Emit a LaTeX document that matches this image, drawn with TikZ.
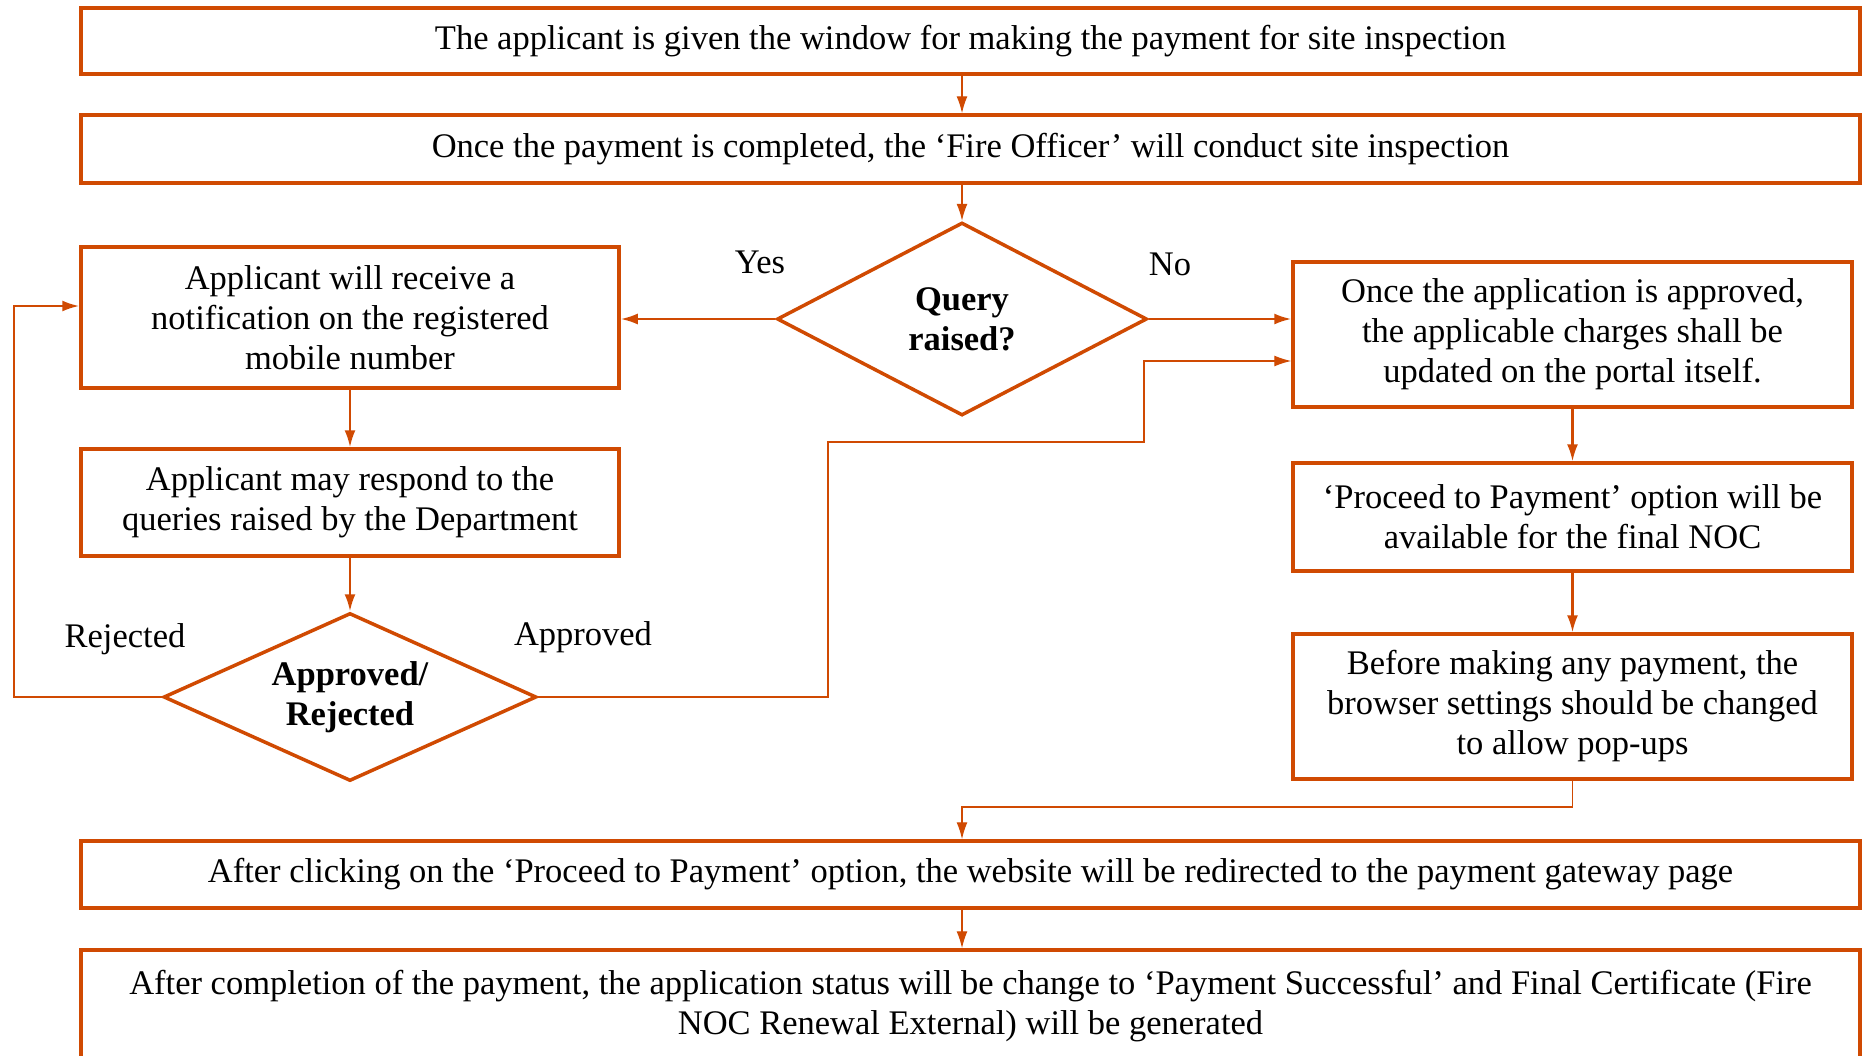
\documentclass[tikz,border=0pt]{standalone}
\usepackage{fontspec}
\setmainfont{Liberation Serif}
\usetikzlibrary{shapes.geometric,arrows.meta}
\definecolor{pwcorange}{RGB}{208,74,2}
\begin{document}
\begin{tikzpicture}[x=1pt,y=-1pt,
    every node/.style={font=\fontsize{34.5}{40}\selectfont},
    stepbox/.style={rectangle,draw=pwcorange,line width=3.5pt,align=center,inner sep=0pt},
    widebox/.style={stepbox,minimum width=1779pt},
    sidebox/.style={stepbox,minimum width=545pt},
    decision/.style={diamond,draw=pwcorange,line width=3.5pt,align=center,inner sep=0pt,aspect=2,font=\fontsize{34.5}{40}\selectfont\bfseries},
    link/.style={draw=pwcorange,line width=2.2pt,-{Latex[length=17pt,width=11pt]}},
    thinlink/.style={draw=pwcorange,line width=1.4pt,-{Latex[length=17pt,width=11pt]}}]
    \useasboundingbox (0,0) rectangle (1862,1055);
    % main column
    \node[widebox,minimum height=66pt] (window) at (970.5,41) {The applicant is given the window for making the payment for site inspection};
    \node[widebox,minimum height=68pt] (inspect) at (970.5,149) {Once the payment is completed, the ‘Fire Officer’ will conduct site inspection};
    \node[decision,minimum width=370pt,minimum height=193pt] (query) at (962,319) {Query\\raised?};
    % query branch
    \node[stepbox,minimum width=538pt,minimum height=141pt] (notify) at (350,317.5) {Applicant will receive a\\notification on the registered\\mobile number};
    \node[stepbox,minimum width=538pt,minimum height=107pt] (respond) at (350,502.5) {Applicant may respond to the\\queries raised by the Department};
    \node[decision,minimum width=373pt,minimum height=168pt] (verdict) at (350,697) {Approved/\\Rejected};
    % approval branch
    \node[sidebox,minimum width=559pt,minimum height=145pt] (charges) at (1572.5,334.5) {Once the application is approved,\\the applicable charges shall be\\updated on the portal itself.};
    \node[sidebox,minimum width=559pt,minimum height=108pt] (proceed) at (1572.5,517) {‘Proceed to Payment’ option will be\\available for the final NOC};
    \node[sidebox,minimum width=559pt,minimum height=145pt] (popups) at (1572.5,706.5) {Before making any payment, the\\browser settings should be changed\\to allow pop-ups};
    % payment
    \node[widebox,minimum height=67pt] (gateway) at (970.5,874.5) {After clicking on the ‘Proceed to Payment’ option, the website will be redirected to the payment gateway page};
    \node[widebox,minimum height=112pt] (certificate) at (970.5,1006) {After completion of the payment, the application status will be change to ‘Payment Successful’ and Final Certificate (Fire\\NOC Renewal External) will be generated};
    % labels
    \node (yes) at (760,262) {Yes};
    \node (no) at (1170,264) {No};
    \node (rejected) at (125,639) {Rejected};
    \node (approved) at (583,637) {Approved};
    % turning points
    \coordinate (rejturn) at (14,306);
    \coordinate (appturn) at (828,442);
    \coordinate (appstep) at (1144,361);
    \coordinate (joinpt) at (962,807);
    % connectors
    \draw[thinlink] (window.south -| query) -- (inspect.north -| query);
    \draw[thinlink] (inspect.south -| query) -- (query.north);
    \draw[link] (query.west) -- (notify.east |- query.west);
    \draw[link] (query.east) -- (charges.west |- query.east);
    \draw[link] (notify.south) -- (respond.north);
    \draw[link] (respond.south) -- (verdict.north);
    \draw[link] (verdict.west) -| (rejturn) -- (notify.west |- rejturn);
    \draw[thinlink] (verdict.east) -| (appturn) -| (appstep) -- (charges.west |- appstep);
    \draw[link] (charges.south) -- (proceed.north);
    \draw[link] (proceed.south) -- (popups.north);
    \draw[thinlink] (popups.south) |- (joinpt) -- (gateway.north -| joinpt);
    \draw[thinlink] (gateway.south -| joinpt) -- (certificate.north -| joinpt);
\end{tikzpicture}
\end{document}
